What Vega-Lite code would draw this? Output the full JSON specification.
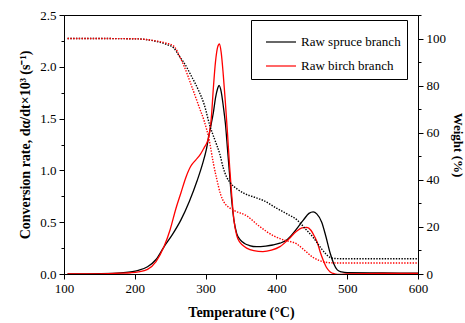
{
  "$schema": "https://vega.github.io/schema/vega-lite/v6.json",
  "autosize": {"type": "none"},
  "width": 354,
  "height": 259,
  "padding": {"left": 64, "top": 15, "right": 47, "bottom": 49},
  "background": "white",
  "config": {
    "font": "Liberation Serif",
    "view": {"stroke": "black", "strokeWidth": 1},
    "text": {"font": "Liberation Serif"},
    "axis": {
      "labelFont": "Liberation Serif, Times New Roman, serif",
      "labelFontSize": 13,
      "labelColor": "black",
      "titleFont": "Liberation Serif, Times New Roman, serif",
      "titleFontSize": 14,
      "titleFontWeight": "bold",
      "titleColor": "black",
      "domainColor": "black",
      "tickColor": "black",
      "grid": false,
      "labelOverlap": false,
      "labelPadding": 3,
      "labelFlush": false
    },
    "legend": {
      "labelFont": "Liberation Serif, Times New Roman, serif",
      "labelFontSize": 13,
      "labelColor": "black",
      "strokeColor": "black",
      "fillColor": "white",
      "padding": 6,
      "symbolType": "stroke",
      "symbolSize": 900,
      "symbolStrokeWidth": 1.2,
      "symbolOffset": 8,
      "rowPadding": 1,
      "labelOffset": 4
    }
  },
  "datasets": {
    "rate": [
      {"series": "Raw spruce branch", "T": 105, "rate": 0.0},
      {"series": "Raw spruce branch", "T": 150, "rate": 0.003},
      {"series": "Raw spruce branch", "T": 180, "rate": 0.01},
      {"series": "Raw spruce branch", "T": 194, "rate": 0.02},
      {"series": "Raw spruce branch", "T": 205, "rate": 0.035},
      {"series": "Raw spruce branch", "T": 218, "rate": 0.07},
      {"series": "Raw spruce branch", "T": 230, "rate": 0.14},
      {"series": "Raw spruce branch", "T": 241, "rate": 0.26},
      {"series": "Raw spruce branch", "T": 253, "rate": 0.38},
      {"series": "Raw spruce branch", "T": 265, "rate": 0.52},
      {"series": "Raw spruce branch", "T": 277, "rate": 0.70},
      {"series": "Raw spruce branch", "T": 288, "rate": 0.90},
      {"series": "Raw spruce branch", "T": 296, "rate": 1.07},
      {"series": "Raw spruce branch", "T": 301, "rate": 1.20},
      {"series": "Raw spruce branch", "T": 305, "rate": 1.35},
      {"series": "Raw spruce branch", "T": 308, "rate": 1.45},
      {"series": "Raw spruce branch", "T": 311, "rate": 1.56},
      {"series": "Raw spruce branch", "T": 314, "rate": 1.70},
      {"series": "Raw spruce branch", "T": 317, "rate": 1.79},
      {"series": "Raw spruce branch", "T": 319, "rate": 1.82},
      {"series": "Raw spruce branch", "T": 322, "rate": 1.76},
      {"series": "Raw spruce branch", "T": 325, "rate": 1.62},
      {"series": "Raw spruce branch", "T": 328, "rate": 1.45},
      {"series": "Raw spruce branch", "T": 331, "rate": 1.20},
      {"series": "Raw spruce branch", "T": 334, "rate": 0.95},
      {"series": "Raw spruce branch", "T": 337, "rate": 0.70},
      {"series": "Raw spruce branch", "T": 340, "rate": 0.52},
      {"series": "Raw spruce branch", "T": 344, "rate": 0.39},
      {"series": "Raw spruce branch", "T": 349, "rate": 0.33},
      {"series": "Raw spruce branch", "T": 355, "rate": 0.295},
      {"series": "Raw spruce branch", "T": 362, "rate": 0.275},
      {"series": "Raw spruce branch", "T": 372, "rate": 0.264},
      {"series": "Raw spruce branch", "T": 385, "rate": 0.27},
      {"series": "Raw spruce branch", "T": 395, "rate": 0.28},
      {"series": "Raw spruce branch", "T": 405, "rate": 0.297},
      {"series": "Raw spruce branch", "T": 415, "rate": 0.33},
      {"series": "Raw spruce branch", "T": 428, "rate": 0.43},
      {"series": "Raw spruce branch", "T": 438, "rate": 0.52},
      {"series": "Raw spruce branch", "T": 446, "rate": 0.585},
      {"series": "Raw spruce branch", "T": 452, "rate": 0.60},
      {"series": "Raw spruce branch", "T": 457, "rate": 0.58},
      {"series": "Raw spruce branch", "T": 464, "rate": 0.50},
      {"series": "Raw spruce branch", "T": 470, "rate": 0.36},
      {"series": "Raw spruce branch", "T": 476, "rate": 0.20},
      {"series": "Raw spruce branch", "T": 481, "rate": 0.10},
      {"series": "Raw spruce branch", "T": 486, "rate": 0.04},
      {"series": "Raw spruce branch", "T": 492, "rate": 0.02},
      {"series": "Raw spruce branch", "T": 500, "rate": 0.012},
      {"series": "Raw spruce branch", "T": 550, "rate": 0.01},
      {"series": "Raw spruce branch", "T": 600, "rate": 0.008},
      {"series": "Raw birch branch", "T": 105, "rate": 0.0},
      {"series": "Raw birch branch", "T": 150, "rate": 0.002},
      {"series": "Raw birch branch", "T": 180, "rate": 0.008},
      {"series": "Raw birch branch", "T": 194, "rate": 0.012},
      {"series": "Raw birch branch", "T": 205, "rate": 0.02},
      {"series": "Raw birch branch", "T": 218, "rate": 0.045},
      {"series": "Raw birch branch", "T": 230, "rate": 0.12},
      {"series": "Raw birch branch", "T": 241, "rate": 0.26},
      {"series": "Raw birch branch", "T": 250, "rate": 0.43},
      {"series": "Raw birch branch", "T": 258, "rate": 0.63},
      {"series": "Raw birch branch", "T": 265, "rate": 0.78},
      {"series": "Raw birch branch", "T": 272, "rate": 0.93},
      {"series": "Raw birch branch", "T": 279, "rate": 1.04},
      {"series": "Raw birch branch", "T": 286, "rate": 1.10},
      {"series": "Raw birch branch", "T": 293, "rate": 1.16},
      {"series": "Raw birch branch", "T": 298, "rate": 1.22},
      {"series": "Raw birch branch", "T": 302, "rate": 1.27},
      {"series": "Raw birch branch", "T": 305, "rate": 1.34},
      {"series": "Raw birch branch", "T": 308, "rate": 1.50},
      {"series": "Raw birch branch", "T": 311, "rate": 1.80},
      {"series": "Raw birch branch", "T": 314, "rate": 2.05},
      {"series": "Raw birch branch", "T": 317, "rate": 2.19},
      {"series": "Raw birch branch", "T": 319.5, "rate": 2.22},
      {"series": "Raw birch branch", "T": 322, "rate": 2.14},
      {"series": "Raw birch branch", "T": 325, "rate": 1.92},
      {"series": "Raw birch branch", "T": 328, "rate": 1.65},
      {"series": "Raw birch branch", "T": 331, "rate": 1.35},
      {"series": "Raw birch branch", "T": 334, "rate": 1.03},
      {"series": "Raw birch branch", "T": 337, "rate": 0.75},
      {"series": "Raw birch branch", "T": 340, "rate": 0.52},
      {"series": "Raw birch branch", "T": 344, "rate": 0.37},
      {"series": "Raw birch branch", "T": 348, "rate": 0.31},
      {"series": "Raw birch branch", "T": 352, "rate": 0.28},
      {"series": "Raw birch branch", "T": 358, "rate": 0.25},
      {"series": "Raw birch branch", "T": 368, "rate": 0.225},
      {"series": "Raw birch branch", "T": 381, "rate": 0.216},
      {"series": "Raw birch branch", "T": 393, "rate": 0.23},
      {"series": "Raw birch branch", "T": 405, "rate": 0.264},
      {"series": "Raw birch branch", "T": 418, "rate": 0.34},
      {"series": "Raw birch branch", "T": 428, "rate": 0.41},
      {"series": "Raw birch branch", "T": 436, "rate": 0.445},
      {"series": "Raw birch branch", "T": 443, "rate": 0.45},
      {"series": "Raw birch branch", "T": 449, "rate": 0.42},
      {"series": "Raw birch branch", "T": 454, "rate": 0.36},
      {"series": "Raw birch branch", "T": 458, "rate": 0.30},
      {"series": "Raw birch branch", "T": 462, "rate": 0.21},
      {"series": "Raw birch branch", "T": 466, "rate": 0.135},
      {"series": "Raw birch branch", "T": 471, "rate": 0.06},
      {"series": "Raw birch branch", "T": 476, "rate": 0.02},
      {"series": "Raw birch branch", "T": 482, "rate": 0.002},
      {"series": "Raw birch branch", "T": 490, "rate": -0.005},
      {"series": "Raw birch branch", "T": 500, "rate": 0.0},
      {"series": "Raw birch branch", "T": 550, "rate": 0.005},
      {"series": "Raw birch branch", "T": 600, "rate": 0.005}
    ],
    "weight": [
      {"series": "Raw spruce branch", "T": 105, "w": 100},
      {"series": "Raw spruce branch", "T": 150, "w": 100},
      {"series": "Raw spruce branch", "T": 200, "w": 99.9},
      {"series": "Raw spruce branch", "T": 227, "w": 99},
      {"series": "Raw spruce branch", "T": 245, "w": 97.5},
      {"series": "Raw spruce branch", "T": 255, "w": 96},
      {"series": "Raw spruce branch", "T": 264, "w": 92},
      {"series": "Raw spruce branch", "T": 270, "w": 89.5},
      {"series": "Raw spruce branch", "T": 280, "w": 84},
      {"series": "Raw spruce branch", "T": 290, "w": 78},
      {"series": "Raw spruce branch", "T": 298, "w": 72},
      {"series": "Raw spruce branch", "T": 306, "w": 63},
      {"series": "Raw spruce branch", "T": 313, "w": 57},
      {"series": "Raw spruce branch", "T": 320, "w": 51},
      {"series": "Raw spruce branch", "T": 325, "w": 45},
      {"series": "Raw spruce branch", "T": 330, "w": 41},
      {"series": "Raw spruce branch", "T": 335, "w": 38.7},
      {"series": "Raw spruce branch", "T": 345, "w": 36},
      {"series": "Raw spruce branch", "T": 354, "w": 34.3},
      {"series": "Raw spruce branch", "T": 370, "w": 32.5},
      {"series": "Raw spruce branch", "T": 381, "w": 31.3},
      {"series": "Raw spruce branch", "T": 400, "w": 28},
      {"series": "Raw spruce branch", "T": 415, "w": 25.5},
      {"series": "Raw spruce branch", "T": 429, "w": 23},
      {"series": "Raw spruce branch", "T": 440, "w": 19.5},
      {"series": "Raw spruce branch", "T": 452, "w": 15.5},
      {"series": "Raw spruce branch", "T": 463, "w": 11},
      {"series": "Raw spruce branch", "T": 470, "w": 8.5},
      {"series": "Raw spruce branch", "T": 476, "w": 7},
      {"series": "Raw spruce branch", "T": 482, "w": 6.6},
      {"series": "Raw spruce branch", "T": 490, "w": 6.5},
      {"series": "Raw spruce branch", "T": 600, "w": 6.5},
      {"series": "Raw birch branch", "T": 105, "w": 100},
      {"series": "Raw birch branch", "T": 150, "w": 100},
      {"series": "Raw birch branch", "T": 200, "w": 99.9},
      {"series": "Raw birch branch", "T": 230, "w": 99},
      {"series": "Raw birch branch", "T": 245, "w": 98},
      {"series": "Raw birch branch", "T": 255, "w": 96.8},
      {"series": "Raw birch branch", "T": 264, "w": 92},
      {"series": "Raw birch branch", "T": 270, "w": 88},
      {"series": "Raw birch branch", "T": 280, "w": 80},
      {"series": "Raw birch branch", "T": 292, "w": 70},
      {"series": "Raw birch branch", "T": 298, "w": 65},
      {"series": "Raw birch branch", "T": 305, "w": 57},
      {"series": "Raw birch branch", "T": 311, "w": 47},
      {"series": "Raw birch branch", "T": 316, "w": 40},
      {"series": "Raw birch branch", "T": 321, "w": 34},
      {"series": "Raw birch branch", "T": 326, "w": 30.5},
      {"series": "Raw birch branch", "T": 332, "w": 28.5},
      {"series": "Raw birch branch", "T": 340, "w": 27},
      {"series": "Raw birch branch", "T": 358, "w": 24.7},
      {"series": "Raw birch branch", "T": 375, "w": 20.5},
      {"series": "Raw birch branch", "T": 396, "w": 16.2},
      {"series": "Raw birch branch", "T": 410, "w": 14.5},
      {"series": "Raw birch branch", "T": 429, "w": 12.7},
      {"series": "Raw birch branch", "T": 440, "w": 10},
      {"series": "Raw birch branch", "T": 452, "w": 7},
      {"series": "Raw birch branch", "T": 460, "w": 5.8},
      {"series": "Raw birch branch", "T": 466, "w": 5.2},
      {"series": "Raw birch branch", "T": 475, "w": 4.8},
      {"series": "Raw birch branch", "T": 485, "w": 4.7},
      {"series": "Raw birch branch", "T": 600, "w": 4.7}
    ]
  },
  "layer": [
    {
      "data": {"name": "rate"},
      "mark": {"type": "line", "interpolate": "monotone", "strokeWidth": 1.3, "clip": true},
      "encoding": {
        "x": {
          "field": "T", "type": "quantitative",
          "scale": {"domain": [100, 600], "nice": false, "zero": false},
          "axis": {
            "title": "Temperature (°C)",
            "values": [100, 150, 200, 250, 300, 350, 400, 450, 500, 550, 600],
            "labelExpr": "datum.value % 100 === 0 ? datum.label : ''",
            "tickSize": {"condition": {"test": "datum.value % 100 !== 0", "value": 3}, "value": 5},
            "titlePadding": 10
          }
        },
        "y": {
          "field": "rate", "type": "quantitative",
          "scale": {"domain": [0, 2.5], "nice": false},
          "axis": {
            "title": "Conversion rate, dα/dt×10³ (s⁻¹)",
            "values": [0, 0.25, 0.5, 0.75, 1, 1.25, 1.5, 1.75, 2, 2.25, 2.5],
            "format": ".1f",
            "labelExpr": "(datum.value * 2) % 1 === 0 ? datum.label : ''",
            "tickSize": {"condition": {"test": "(datum.value * 2) % 1 !== 0", "value": 3}, "value": 5},
            "titlePadding": 7
          }
        },
        "color": {
          "field": "series", "type": "nominal",
          "scale": {"domain": ["Raw spruce branch", "Raw birch branch"], "range": ["#000000", "#ff0000"]},
          "legend": {"title": null, "orient": "none", "legendX": 187, "legendY": 5}
        }
      }
    },
    {
      "data": {"name": "weight"},
      "mark": {"type": "line", "interpolate": "monotone", "strokeWidth": 1.4, "strokeDash": [1.4, 1.4], "clip": true},
      "encoding": {
        "x": {"field": "T", "type": "quantitative"},
        "y": {
          "field": "w", "type": "quantitative",
          "scale": {"domain": [0, 110], "nice": false},
          "axis": {
            "orient": "right",
            "title": "Weight (%)",
            "titleFontSize": 13,
            "values": [0, 10, 20, 30, 40, 50, 60, 70, 80, 90, 100, 110],
            "labelExpr": "datum.value % 20 === 0 && datum.value <= 100 ? datum.label : ''",
            "tickSize": {"condition": {"test": "datum.value % 20 !== 0", "value": 3}, "value": 5},
            "titlePadding": 5
          }
        },
        "color": {"field": "series", "type": "nominal"}
      }
    }
  ],
  "resolve": {"scale": {"y": "independent"}}
}
